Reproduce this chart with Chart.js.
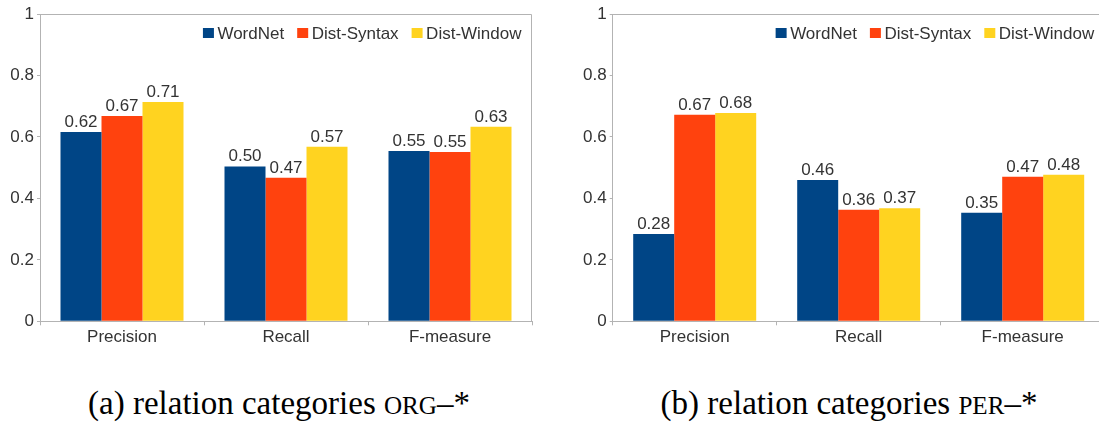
<!DOCTYPE html>
<html>
<head>
<meta charset="utf-8">
<script src="https://cdn.jsdelivr.net/npm/chart.js@4/dist/chart.umd.min.js"></script>
<style>
    body { margin: 0; background: #fff; width: 1099px; height: 424px; overflow: hidden; position: relative; }
    .panel { position: absolute; top: 0; height: 360px; }
    #panelA { left: 0; width: 549px; }
    /* the right chart runs past the page edge, as in the original figure */
    #panelB { left: 549px; width: 581px; }
    .caption {
        position: absolute; top: 387px; font-family: "Liberation Serif", "DejaVu Serif", serif;
        font-size: 33px; line-height: 1; color: #000; white-space: nowrap; transform: translateX(-50%);
    }
    .sc { font-size: 0.76em; }
</style>
</head>
<body>
<div class="panel" id="panelA"><canvas id="chartA"></canvas></div>
<div class="panel" id="panelB"><canvas id="chartB"></canvas></div>
<div class="caption" style="left:279px">(a) relation categories <span class="sc">ORG</span>–*</div>
<div class="caption" style="left:849px">(b) relation categories <span class="sc">PER</span>–*</div>

<script>
const categories = ['Precision', 'Recall', 'F-measure'];
const seriesNames = ['WordNet', 'Dist-Syntax', 'Dist-Window'];
const seriesColors = ['#004586', '#ff420e', '#ffd320'];
const yTicks = [0, 0.2, 0.4, 0.6, 0.8, 1];

// (a) ORG-*
const orgWordNet = [0.616, 0.504, 0.554];
const orgSyntax = [0.668, 0.467, 0.551];
const orgWindow = [0.714, 0.568, 0.633];

// (b) PER-*
const perWordNet = [0.284, 0.460, 0.353];
const perSyntax = [0.672, 0.363, 0.470];
const perWindow = [0.678, 0.368, 0.477];

const textColor = '#333333';
const lineColor = '#b3b3b3';
const sansFont = '"Liberation Sans", Arial, sans-serif';
const fontSize = 17;

// value labels above the bars
const valueLabels = {
    id: 'valueLabels',
    afterDatasetsDraw(chart) {
        const ctx = chart.ctx;
        ctx.save();
        ctx.font = fontSize + 'px ' + sansFont;
        ctx.fillStyle = textColor;
        ctx.textAlign = 'center';
        ctx.textBaseline = 'alphabetic';
        chart.data.datasets.forEach(function(ds, i) {
            chart.getDatasetMeta(i).data.forEach(function(bar, j) {
                ctx.fillText(ds.data[j].toFixed(2), bar.x, bar.y - 5);
            });
        });
        ctx.restore();
    }
};

// top and right frame lines
const frame = {
    id: 'frame',
    beforeDatasetsDraw(chart) {
        const a = chart.chartArea;
        const ctx = chart.ctx;
        const r = Math.round(a.right) - 0.5;
        ctx.save();
        ctx.strokeStyle = lineColor;
        ctx.lineWidth = 1;
        ctx.beginPath();
        ctx.moveTo(a.left, a.top + 0.5);
        ctx.lineTo(r, a.top + 0.5);
        ctx.lineTo(r, a.bottom);
        ctx.stroke();
        ctx.restore();
    }
};

// small legend inside the plot, top right
const innerLegend = {
    id: 'innerLegend',
    afterDraw(chart) {
        const ctx = chart.ctx;
        const a = chart.chartArea;
        const boxW = 11, boxH = 10, gap = 3.5, spacing = 13;
        ctx.save();
        ctx.font = fontSize + 'px ' + sansFont;
        ctx.textBaseline = 'middle';
        const items = chart.data.datasets.map(function(ds) {
            return { label: ds.label, color: ds.backgroundColor, w: ctx.measureText(ds.label).width };
        });
        let total = 0;
        items.forEach(function(it, i) { total += boxW + gap + it.w + (i ? spacing : 0); });
        let x = a.right - 10.5 - total;
        const y = a.top + 19;
        items.forEach(function(it) {
            ctx.fillStyle = it.color;
            ctx.fillRect(x, y - boxH / 2, boxW, boxH);
            ctx.fillStyle = textColor;
            ctx.fillText(it.label, x + boxW + gap, y + 1);
            x += boxW + gap + it.w + spacing;
        });
        ctx.restore();
    }
};

function makeChart(id, values, yWidth, padRight) {
    const ctx = document.getElementById(id).getContext('2d');
    return new Chart(ctx, {
        type: 'bar',
        data: {
            labels: categories,
            datasets: seriesNames.map(function(name, i) {
                return {
                    label: name,
                    data: values[i],
                    backgroundColor: seriesColors[i],
                    borderWidth: 0,
                    categoryPercentage: 0.75,
                    barPercentage: 1.0
                };
            })
        },
        options: {
            responsive: true,
            maintainAspectRatio: false,
            animation: false,
            layout: { padding: { top: 14, right: padRight, left: 0, bottom: 0 } },
            plugins: {
                legend: { display: false },
                tooltip: { enabled: false }
            },
            scales: {
                x: {
                    afterFit: function(scale) { scale.height = 38.7; },
                    grid: {
                        offset: true,
                        drawOnChartArea: false,
                        tickLength: 4,
                        color: lineColor
                    },
                    border: { color: lineColor },
                    ticks: {
                        color: textColor,
                        font: { family: sansFont, size: fontSize },
                        padding: 2
                    }
                },
                y: {
                    min: 0,
                    max: 1,
                    afterFit: function(scale) { scale.width = yWidth; },
                    afterBuildTicks: function(scale) {
                        scale.ticks = yTicks.map(function(v) { return { value: v }; });
                    },
                    grid: {
                        drawOnChartArea: false,
                        tickLength: 3,
                        color: lineColor
                    },
                    border: { color: lineColor },
                    ticks: {
                        color: textColor,
                        font: { family: sansFont, size: fontSize },
                        padding: 3,
                        callback: function(v) { return String(Math.round(v * 10) / 10); }
                    }
                }
            }
        },
        plugins: [frame, valueLabels, innerLegend]
    });
}

makeChart('chartA', [orgWordNet, orgSyntax, orgWindow], 40, 17);
makeChart('chartB', [perWordNet, perSyntax, perWindow], 63.7, 25.3);
</script>
</body>
</html>
